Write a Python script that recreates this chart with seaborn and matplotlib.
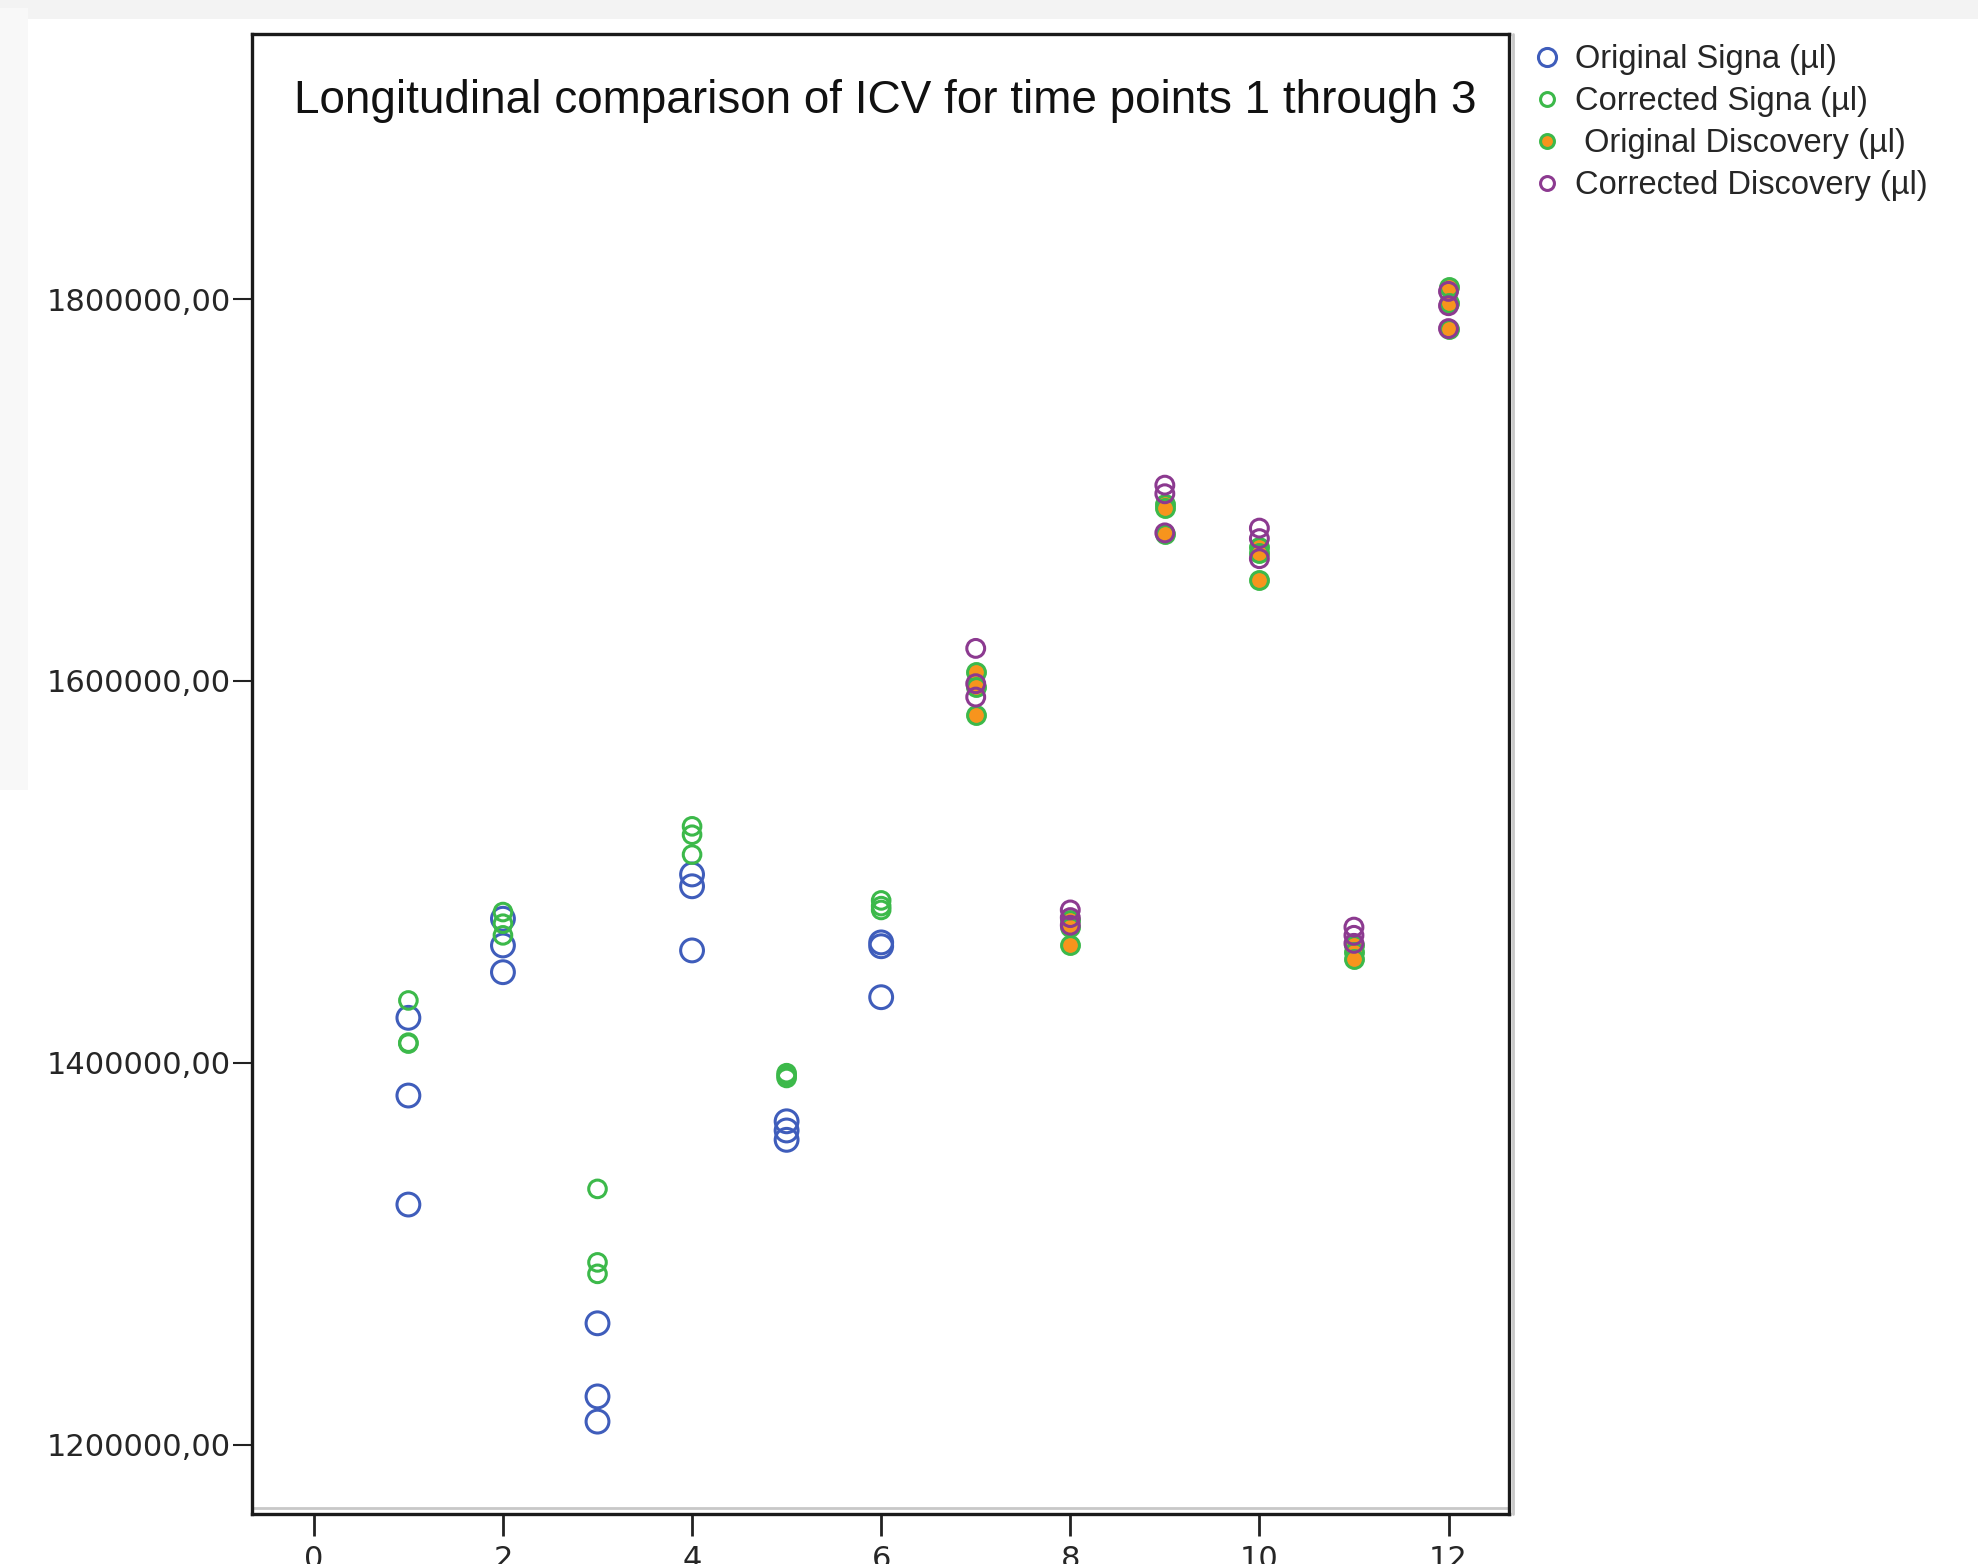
import numpy as np
import pandas as pd
import matplotlib
matplotlib.use("Agg")
import matplotlib.pyplot as plt
from matplotlib.lines import Line2D
from matplotlib.patches import Rectangle
import seaborn as sns

# data (3 time points per subject)
signa_x = [1, 1, 1, 2, 2, 2, 3, 3, 3, 4, 4, 4, 5, 5, 5, 6, 6, 6]
orig_signa = [1423500, 1382800, 1325700, 1475400, 1461400, 1447400,
              1263500, 1225200, 1212000, 1498600, 1492400, 1458800,
              1369300, 1364500, 1359600, 1463000, 1461000, 1434300]
corr_signa = [1432600, 1410500, 1410000, 1478900, 1472800, 1466700,
              1333900, 1295400, 1289400, 1523800, 1519400, 1509000,
              1394500, 1393200, 1392000, 1485000, 1482000, 1480000]

disc_x = [7, 7, 7, 8, 8, 8, 9, 9, 9, 10, 10, 10, 11, 11, 11, 12, 12, 12]
orig_disc = [1604500, 1597000, 1582300, 1474500, 1471000, 1461400,
             1692500, 1690500, 1677000, 1670000, 1667000, 1652700,
             1461400, 1457800, 1454500, 1806500, 1798000, 1784300]
corr_disc = [1617000, 1598500, 1591500, 1480000, 1476000, 1472000,
             1702500, 1698000, 1677500, 1680000, 1674500, 1664000,
             1471000, 1466700, 1462500, 1804000, 1796500, 1784500]

labels = ["Original Signa (\u00b5l)", "Corrected Signa (\u00b5l)",
          " Original Discovery (\u00b5l)", "Corrected Discovery (\u00b5l)"]
title = "Longitudinal comparison of ICV for time points 1 through 3"

blue = "#3f5dbb"
green = "#3cb94a"
orange = "#f7941d"
purple = "#8c3a90"

sns.set_style("white")
plt.rcParams["font.family"] = ["DejaVu Sans"]

fig = plt.figure(figsize=(19.78, 15.64), dpi=100)
fig.patch.set_facecolor("white")
# faint grey strips from the screenshot
fig.patches.append(Rectangle((0, 0.988), 1.0, 0.012, transform=fig.transFigure,
                             facecolor="#f3f3f3", edgecolor="none", zorder=0))
fig.patches.append(Rectangle((0, 0.495), 0.014, 0.5, transform=fig.transFigure,
                             facecolor="#f8f8f8", edgecolor="none", zorder=0))

ax = fig.add_axes([0.1274, 0.0320, 0.6355, 0.9463])

df_os = pd.DataFrame({"x": signa_x, "y": orig_signa})
df_cs = pd.DataFrame({"x": signa_x, "y": corr_signa})
df_od = pd.DataFrame({"x": disc_x, "y": orig_disc})
df_cd = pd.DataFrame({"x": disc_x, "y": corr_disc})

sns.scatterplot(data=df_os, x="x", y="y", ax=ax, s=270, marker="o",
                facecolor="none", edgecolor=blue, linewidth=2.2, zorder=3)
sns.scatterplot(data=df_cs, x="x", y="y", ax=ax, s=160, marker="o",
                facecolor="none", edgecolor=green, linewidth=2.2, zorder=4)
sns.scatterplot(data=df_od, x="x", y="y", ax=ax, s=165, marker="o",
                facecolor=orange, edgecolor=green, linewidth=2.2, zorder=5)
sns.scatterplot(data=df_cd, x="x", y="y", ax=ax, s=165, marker="o",
                facecolor="none", edgecolor=purple, linewidth=2.2, zorder=6)

ax.set_xlim(-0.654, 12.64)
ax.set_ylim(1163636, 1938843)
ax.set_xticks(range(0, 13, 2))
ax.set_yticks([1200000, 1400000, 1600000, 1800000])
ax.set_yticklabels([f"{v:.2f}".replace(".", ",") for v in ax.get_yticks()])
ax.set_xlabel("")
ax.set_ylabel("")

ax.tick_params(axis="y", length=14, width=1.5, color="#222222", labelsize=22, pad=1,
               left=True)
ax.tick_params(axis="x", length=16, width=2, color="#222222", labelsize=22, pad=6,
               bottom=True)
for sp in ax.spines.values():
    sp.set_visible(True)
    sp.set_color("#1a1a1a")
    sp.set_linewidth(2.4)

# light inner shadow line of the frame
ax.plot([0, 1], [0.004, 0.004], transform=ax.transAxes, color="#c8c8c8",
        lw=2, clip_on=False, zorder=1)
ax.plot([1.003, 1.003], [0, 1], transform=ax.transAxes, color="#c8c8c8",
        lw=2, clip_on=False, zorder=1)

ax.text(0.0334, 0.955, title, transform=ax.transAxes, ha="left", va="center",
        fontsize=33, family=["Liberation Sans", "DejaVu Sans"], color="#111111")

handles = [
    Line2D([], [], ls="none", marker="o", markersize=13, mfc="none", mec=blue, mew=2.2),
    Line2D([], [], ls="none", marker="o", markersize=10, mfc="none", mec=green, mew=2.2),
    Line2D([], [], ls="none", marker="o", markersize=10, mfc=orange, mec=green, mew=2.2),
    Line2D([], [], ls="none", marker="o", markersize=10, mfc="none", mec=purple, mew=2.2),
]
leg = ax.legend(handles, labels, loc="upper left", bbox_to_anchor=(1.012, 1.002),
                frameon=False, handlelength=0.6, handletextpad=0.55,
                labelspacing=0.34, borderaxespad=0,
                prop={"family": ["Liberation Sans", "DejaVu Sans"], "size": 23.5})

fig.savefig("out.png", dpi=100, facecolor=fig.get_facecolor())
